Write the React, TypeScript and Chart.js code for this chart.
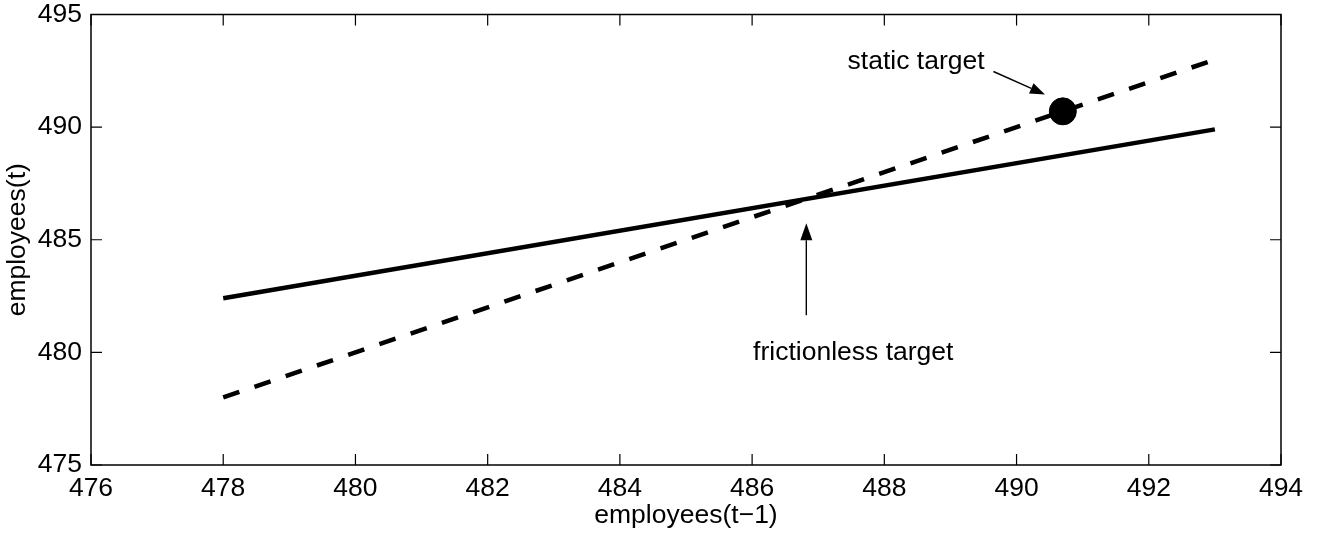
import React, { useEffect, useRef } from 'react';
import { Chart, registerables } from 'chart.js';

Chart.register(...registerables);

// ---- data ----
const xTicks = [476, 478, 480, 482, 484, 486, 488, 490, 492, 494];
const yTicks = [475, 480, 485, 490, 495];
const solidX = [478, 493];
const solidY = [482.4, 489.9];
const dashedX = [478, 493];
const dashedY = [478, 493];
const staticX = [490.7];
const staticY = [490.7];
const xTitle = 'employees(t\u22121)';
const yTitle = 'employees(t)';

// ---- annotations (data coordinates) ----
const annotationTexts = ['static target', 'frictionless target'];
const annotationTextAt = [
  [488.48, 492.56],
  [487.53, 479.66],
];
const annotationArrowFrom = [
  [489.65, 492.47],
  [486.82, 481.65],
];
const annotationArrowTo = [
  [490.43, 491.45],
  [486.82, 485.73],
];

const FONT = "'Liberation Sans', Arial, Helvetica, sans-serif";
const FS = 26.5;

function drawArrow(ctx: CanvasRenderingContext2D, x1: number, y1: number, x2: number, y2: number, headLen: number, headW: number) {
  const ang = Math.atan2(y2 - y1, x2 - x1);
  const bx = x2 - headLen * Math.cos(ang);
  const by = y2 - headLen * Math.sin(ang);
  ctx.beginPath();
  ctx.moveTo(x1, y1);
  ctx.lineTo(bx, by);
  ctx.lineWidth = 1.4;
  ctx.strokeStyle = '#000';
  ctx.stroke();
  ctx.beginPath();
  ctx.moveTo(x2, y2);
  ctx.lineTo(bx + (headW / 2) * Math.sin(ang), by - (headW / 2) * Math.cos(ang));
  ctx.lineTo(bx - (headW / 2) * Math.sin(ang), by + (headW / 2) * Math.cos(ang));
  ctx.closePath();
  ctx.fillStyle = '#000';
  ctx.fill();
}

const framePlugin = {
  id: 'framePlugin',
  afterDatasetsDraw(chart: any) {
    const { ctx, chartArea, scales } = chart;
    const { left, right, top, bottom } = chartArea;
    const xs = scales.x;
    const ys = scales.y;
    const tl = 11;
    ctx.save();
    ctx.strokeStyle = '#000';
    ctx.lineWidth = 1.5;
    ctx.strokeRect(left, top, right - left, bottom - top);
    ctx.beginPath();
    xTicks.forEach((v) => {
      const px = xs.getPixelForValue(v);
      ctx.moveTo(px, bottom);
      ctx.lineTo(px, bottom - tl);
      ctx.moveTo(px, top);
      ctx.lineTo(px, top + tl);
    });
    yTicks.forEach((v) => {
      const py = ys.getPixelForValue(v);
      ctx.moveTo(left, py);
      ctx.lineTo(left + tl, py);
      ctx.moveTo(right, py);
      ctx.lineTo(right - tl, py);
    });
    ctx.lineWidth = 1.2;
    ctx.stroke();

    // annotations
    ctx.fillStyle = '#000';
    ctx.font = `${FS}px ${FONT}`;
    ctx.textAlign = 'center';
    ctx.textBaseline = 'alphabetic';
    annotationTexts.forEach((t, i) => {
      ctx.fillText(t, xs.getPixelForValue(annotationTextAt[i][0]), ys.getPixelForValue(annotationTextAt[i][1]));
      drawArrow(
        ctx,
        xs.getPixelForValue(annotationArrowFrom[i][0]),
        ys.getPixelForValue(annotationArrowFrom[i][1]),
        xs.getPixelForValue(annotationArrowTo[i][0]),
        ys.getPixelForValue(annotationArrowTo[i][1]),
        i === 0 ? 15 : 17,
        i === 0 ? 11 : 12
      );
    });
    ctx.restore();
  },
};

export default function App() {
  const ref = useRef<HTMLCanvasElement | null>(null);
  useEffect(() => {
    document.body.style.margin = '0';
    const canvas = ref.current;
    if (!canvas) return;
    const chart = new Chart(canvas, {
      type: 'scatter',
      data: {
        datasets: [
          {
            label: 'static target',
            data: staticX.map((x, i) => ({ x, y: staticY[i] })),
            showLine: false,
            pointRadius: 13.5,
            pointBorderWidth: 1,
            pointBackgroundColor: '#000',
            pointBorderColor: '#000',
          },
          {
            label: 'solid',
            data: solidX.map((x, i) => ({ x, y: solidY[i] })),
            showLine: true,
            borderColor: '#000',
            borderWidth: 4.5,
            pointRadius: 0,
            borderCapStyle: 'butt',
          },
          {
            label: 'dashed',
            data: dashedX.map((x, i) => ({ x, y: dashedY[i] })),
            showLine: true,
            borderColor: '#000',
            borderWidth: 4.5,
            borderDash: [17, 16],
            pointRadius: 0,
            borderCapStyle: 'butt',
          },
        ],
      },
      options: {
        animation: false,
        responsive: false,
        devicePixelRatio: 1,
        layout: { padding: { top: 14, right: 36, left: 0, bottom: 0 } },
        plugins: {
          legend: { display: false },
          tooltip: { enabled: false },
        },
        scales: {
          x: {
            type: 'linear',
            min: xTicks[0],
            max: xTicks[xTicks.length - 1],
            afterBuildTicks: (s: any) => {
              s.ticks = xTicks.map((v) => ({ value: v }));
            },
            afterFit: (s: any) => {
              s.height = 75;
              s.paddingLeft = 0;
              s.paddingRight = 0;
            },
            grid: { display: false, drawTicks: false },
            border: { display: false },
            ticks: {
              autoSkip: false,
              maxRotation: 0,
              padding: 7.5,
              color: '#000',
              font: { family: FONT, size: FS },
              callback: (v: any) => String(v),
            },
            title: {
              display: true,
              text: xTitle,
              color: '#000',
              font: { family: FONT, size: FS },
              padding: { top: 0, bottom: 8 },
            },
          },
          y: {
            type: 'linear',
            min: yTicks[0],
            max: yTicks[yTicks.length - 1],
            afterBuildTicks: (s: any) => {
              s.ticks = yTicks.map((v) => ({ value: v }));
            },
            afterFit: (s: any) => {
              s.width = 91;
              s.paddingTop = 0;
              s.paddingBottom = 0;
            },
            grid: { display: false, drawTicks: false },
            border: { display: false },
            ticks: {
              autoSkip: false,
              padding: 9,
              color: '#000',
              font: { family: FONT, size: FS },
              callback: (v: any) => String(v),
            },
            title: {
              display: true,
              text: yTitle,
              color: '#000',
              font: { family: FONT, size: FS },
              padding: { top: 2, bottom: 0 },
            },
          },
        },
      },
      plugins: [framePlugin],
    } as any);
    return () => chart.destroy();
  }, []);
  return (
    <div style={{ position: 'absolute', left: 0, top: 0, width: 1317, height: 540, background: '#fff' }}>
      <canvas ref={ref} width={1317} height={540} style={{ width: 1317, height: 540, display: 'block' }} />
    </div>
  );
}
